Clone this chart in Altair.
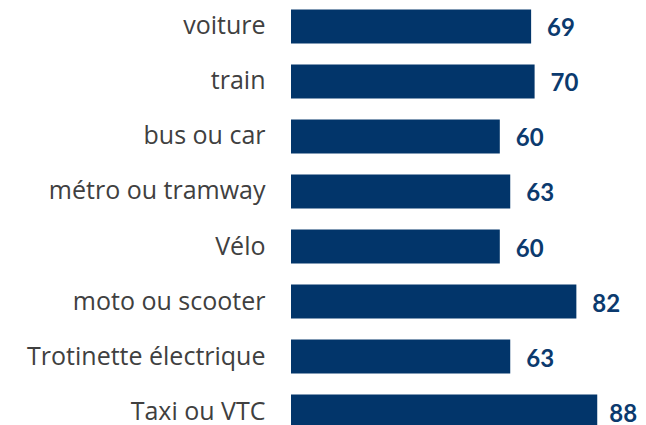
import altair as alt
import pandas as pd

categories = ["voiture", "train", "bus ou car", "métro ou tramway", "Vélo",
              "moto ou scooter", "Trotinette électrique", "Taxi ou VTC"]
values = [69, 70, 60, 63, 60, 82, 63, 88]

df = pd.DataFrame({"cat": categories, "val": values})

y = alt.Y("cat:N", sort=categories, title=None,
          scale=alt.Scale(paddingInner=0.382, paddingOuter=0),
          axis=alt.Axis(domain=False, ticks=False, labelPadding=26,
                        labelFont="Open Sans", labelFontSize=25,
                        labelFontWeight="normal", labelColor="#404040",
                        labelLimit=400))
x = alt.X("val:Q", scale=alt.Scale(domain=[0, 97.7], nice=False), axis=None)

bars = alt.Chart(df).mark_bar(color="#02356A").encode(x=x, y=y)
text_style = dict(align="left", baseline="middle", dy=3, font="Lato",
                  fontSize=24, fontWeight="bold", color="#0B3A6E")
labels = alt.Chart(df).transform_filter("datum.val < 85").mark_text(
    dx=16, **text_style).encode(x=x, y=y, text="val:Q")
labels_edge = alt.Chart(df).transform_filter("datum.val >= 85").mark_text(
    dx=12, **text_style).encode(x=x, y=y, text="val:Q")

chart = (bars + labels + labels_edge).properties(
    width=340, height=419,
    autosize=alt.AutoSizeParams(type="none"),
    padding={"left": 283, "top": 1.5, "right": 7, "bottom": 0},
).configure_view(stroke=None)

chart.save("out.html", embed_options={"renderer": "svg", "actions": False})
